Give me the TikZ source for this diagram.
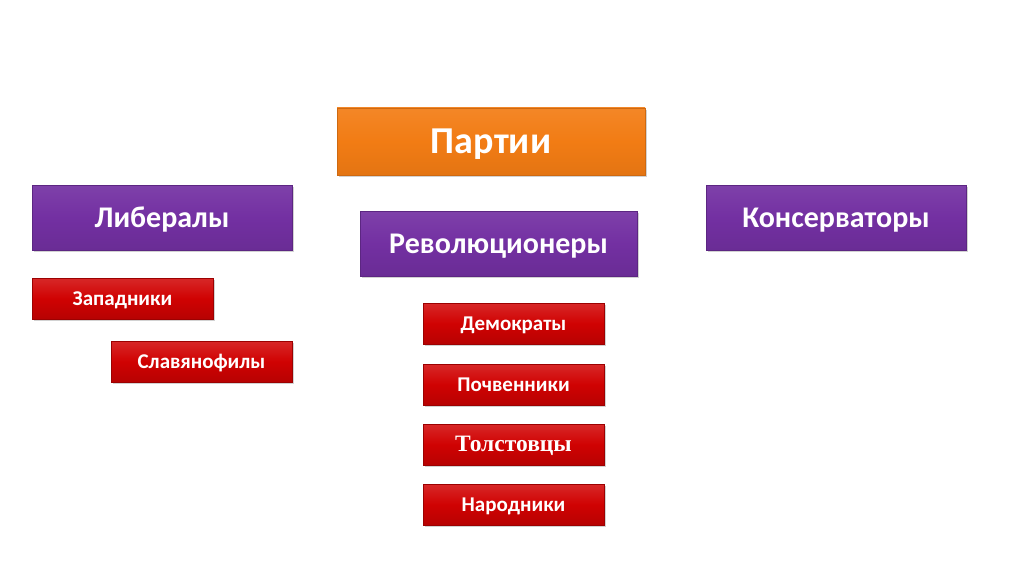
\documentclass[tikz,border=0pt]{standalone}
\usepackage{fontspec}
\setmainfont{Carlito}
\newfontfamily\serifbold{Liberation Serif}
\usetikzlibrary{shadows}

\definecolor{partyorange}{HTML}{F27C14}
\definecolor{campviolet}{HTML}{7330A2}
\definecolor{groupred}{HTML}{D00202}

\tikzset{
  box/.style={rectangle, inner sep=0pt, text=white, text depth=0pt,
    drop shadow={shadow xshift=2pt, shadow yshift=-2pt, opacity=0.35}},
  party/.style={box, minimum width=308pt, minimum height=67pt, text height=24pt,
    draw=partyorange!85!black, top color=partyorange!92!white,
    bottom color=partyorange!94!black, middle color=partyorange,
    font=\bfseries\fontsize{38}{42}\selectfont},
  camp/.style={box, minimum width=260pt, minimum height=65pt, text height=19pt,
    draw=campviolet!80!black, top color=campviolet!92!white,
    bottom color=campviolet!92!black, middle color=campviolet,
    font=\bfseries\fontsize{30}{34}\selectfont},
  group/.style={box, minimum width=181pt, minimum height=41pt, text height=13.5pt,
    draw=groupred!75!black, top color=groupred!85!white,
    bottom color=groupred!88!black, middle color=groupred,
    font=\bfseries\fontsize{21}{24}\selectfont}
}

\begin{document}
\begin{tikzpicture}[x=1pt,y=1pt]

\useasboundingbox[fill=white] (0,0) rectangle (1024,574);

% Top level
\node[party] (parties) at (491,432.5) {Партии};

% Three camps
\node[camp] (liberals) at (162,356.5) {Либералы};
\node[camp, minimum width=277pt] (revolutionaries) at (498.5,330.5) {Революционеры};
\node[camp] (conservatives) at (836,356.5) {Консерваторы};

% Liberal groups
\node[group] (westerners) at (122.5,275.5) {Западники};
\node[group] (slavophiles) at (201.5,212.5) {Славянофилы};

% Revolutionary groups
\node[group] (democrats) at (513.5,250.5) {Демократы};
\node[group] (pochvenniki) at (513.5,189.5) {Почвенники};
\node[group, font=\serifbold\bfseries\fontsize{23.5}{26}\selectfont] (tolstoyans) at (513.5,129.5) {Толстовцы};
\node[group] (narodniki) at (513.5,69.5) {Народники};

\end{tikzpicture}
\end{document}
